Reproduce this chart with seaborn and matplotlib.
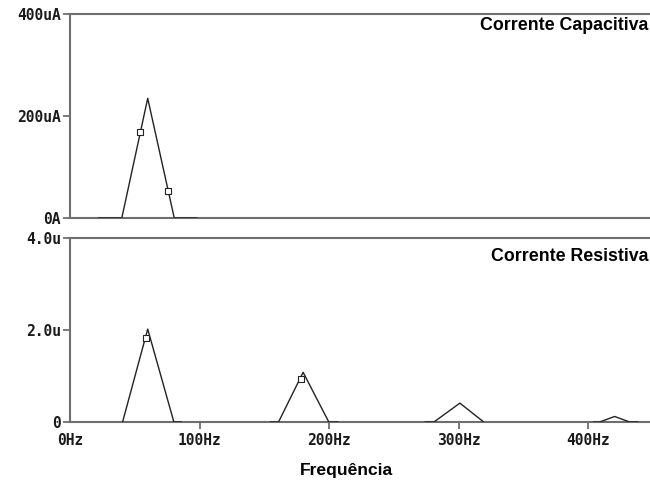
import numpy as np
import pandas as pd
import matplotlib
matplotlib.use("Agg")
import matplotlib.pyplot as plt
import seaborn as sns

# ---- data ----
# Corrente Capacitiva (uA) vs frequency (Hz)
cap_freq = [22, 40, 60, 80.5, 98]
cap_val = [0, 0, 234.7, 0, 0]
cap_mark_freq = [54.3, 75.8]
cap_mark_val = [169, 53.5]

# Corrente Resistiva (u) vs frequency (Hz), drawn as separate segments
res_freq = [40.6, 60, 80.2, 86,
            154.5, 161, 180, 199.8, 207,
            274, 281, 301, 319.4,
            404, 409, 420.5, 432, 438.5]
res_val = [0, 2.02, 0, 0,
           0, 0, 1.08, 0, 0,
           0, 0, 0.41, 0,
           0, 0, 0.12, 0, 0]
res_seg = [1, 1, 1, 1,
           2, 2, 2, 2, 2,
           3, 3, 3, 3,
           4, 4, 4, 4, 4]
res_mark_freq = [58.4, 178]
res_mark_val = [1.83, 0.93]

x_ticks = [0, 100, 200, 300, 400]
x_ticklabels = ["0Hz", "100Hz", "200Hz", "300Hz", "400Hz"]
cap_yticks = [0, 200, 400]
cap_yticklabels = ["0A", "200uA", "400uA"]
res_yticks = [0, 2, 4]
res_yticklabels = ["0", "2.0u", "4.0u"]

# ---- style ----
sns.set_style("white")
plt.rcParams["font.family"] = ["DejaVu Sans Mono", "DejaVu Sans"]

AX_COL = "#6e6e6e"
LINE_COL = "#222222"
TXT_COL = "#1a1a1a"

fig = plt.figure(figsize=(6.5, 4.82), dpi=100)
ax1 = fig.add_axes([70 / 650, 0.5477, 1 - 70 / 650, 0.4232])
ax2 = fig.add_axes([70 / 650, 0.1245, 1 - 70 / 650, 0.3817])

cap_df = pd.DataFrame({"f": cap_freq, "v": cap_val})
res_df = pd.DataFrame({"f": res_freq, "v": res_val, "seg": res_seg})

sns.lineplot(data=cap_df, x="f", y="v", ax=ax1, color=LINE_COL,
             linewidth=1.0, estimator=None, sort=False, zorder=3)
sns.scatterplot(x=cap_mark_freq, y=cap_mark_val, ax=ax1, marker="s",
                s=14, facecolor="white", edgecolor=LINE_COL, linewidth=0.8,
                zorder=4)

sns.lineplot(data=res_df, x="f", y="v", units="seg", ax=ax2, color=LINE_COL,
             linewidth=1.0, estimator=None, sort=False, zorder=3)
sns.scatterplot(x=res_mark_freq, y=res_mark_val, ax=ax2, marker="s",
                s=14, facecolor="white", edgecolor=LINE_COL, linewidth=0.8,
                zorder=4)

for ax, yt, ytl, ylim in [(ax1, cap_yticks, cap_yticklabels, (0, 400)),
                          (ax2, res_yticks, res_yticklabels, (0, 4))]:
    ax.set_xlim(0, 447.8)
    ax.set_ylim(*ylim)
    ax.set_yticks(yt)
    ax.set_yticklabels(ytl, fontsize=10.5, fontweight="bold", color=TXT_COL)
    ax.set_xlabel("")
    ax.set_ylabel("")
    ax.spines["right"].set_visible(False)
    for s in ["left", "top", "bottom"]:
        ax.spines[s].set_color(AX_COL)
        ax.spines[s].set_linewidth(1.5)
    ax.tick_params(axis="y", direction="out", length=5, width=1.3,
                   color=AX_COL, pad=1.5, left=True)
    ax.set_facecolor("white")

ax1.set_xticks(x_ticks)
ax1.set_xticklabels([])
ax1.tick_params(axis="x", length=0)

ax2.set_xticks(x_ticks)
ax2.set_xticklabels(x_ticklabels, fontsize=10.5, fontweight="bold",
                    color=TXT_COL)
ax2.tick_params(axis="x", direction="out", length=5, width=1.3,
                color=AX_COL, pad=3, bottom=True)
# hide the tick at 0 on x (reference has no tick there)
ax2.xaxis.get_major_ticks()[0].tick1line.set_visible(False)

title_font = ["Liberation Sans", "DejaVu Sans"]
fig.text(0.998, 1 - 30 / 482, "Corrente Capacitiva", ha="right", va="baseline",
         fontsize=12.8, fontweight="bold", family=title_font, color="black")
fig.text(0.998, 1 - 260.7 / 482, "Corrente Resistiva", ha="right",
         va="baseline", fontsize=12.8, fontweight="bold", family=title_font,
         color="black")
fig.text(346.7 / 650, 1 - 475 / 482, "Frequência", ha="center", va="baseline",
         fontsize=12.6, fontweight="bold", family=title_font, color="black")

fig.savefig("out.png", dpi=100, facecolor="white")
